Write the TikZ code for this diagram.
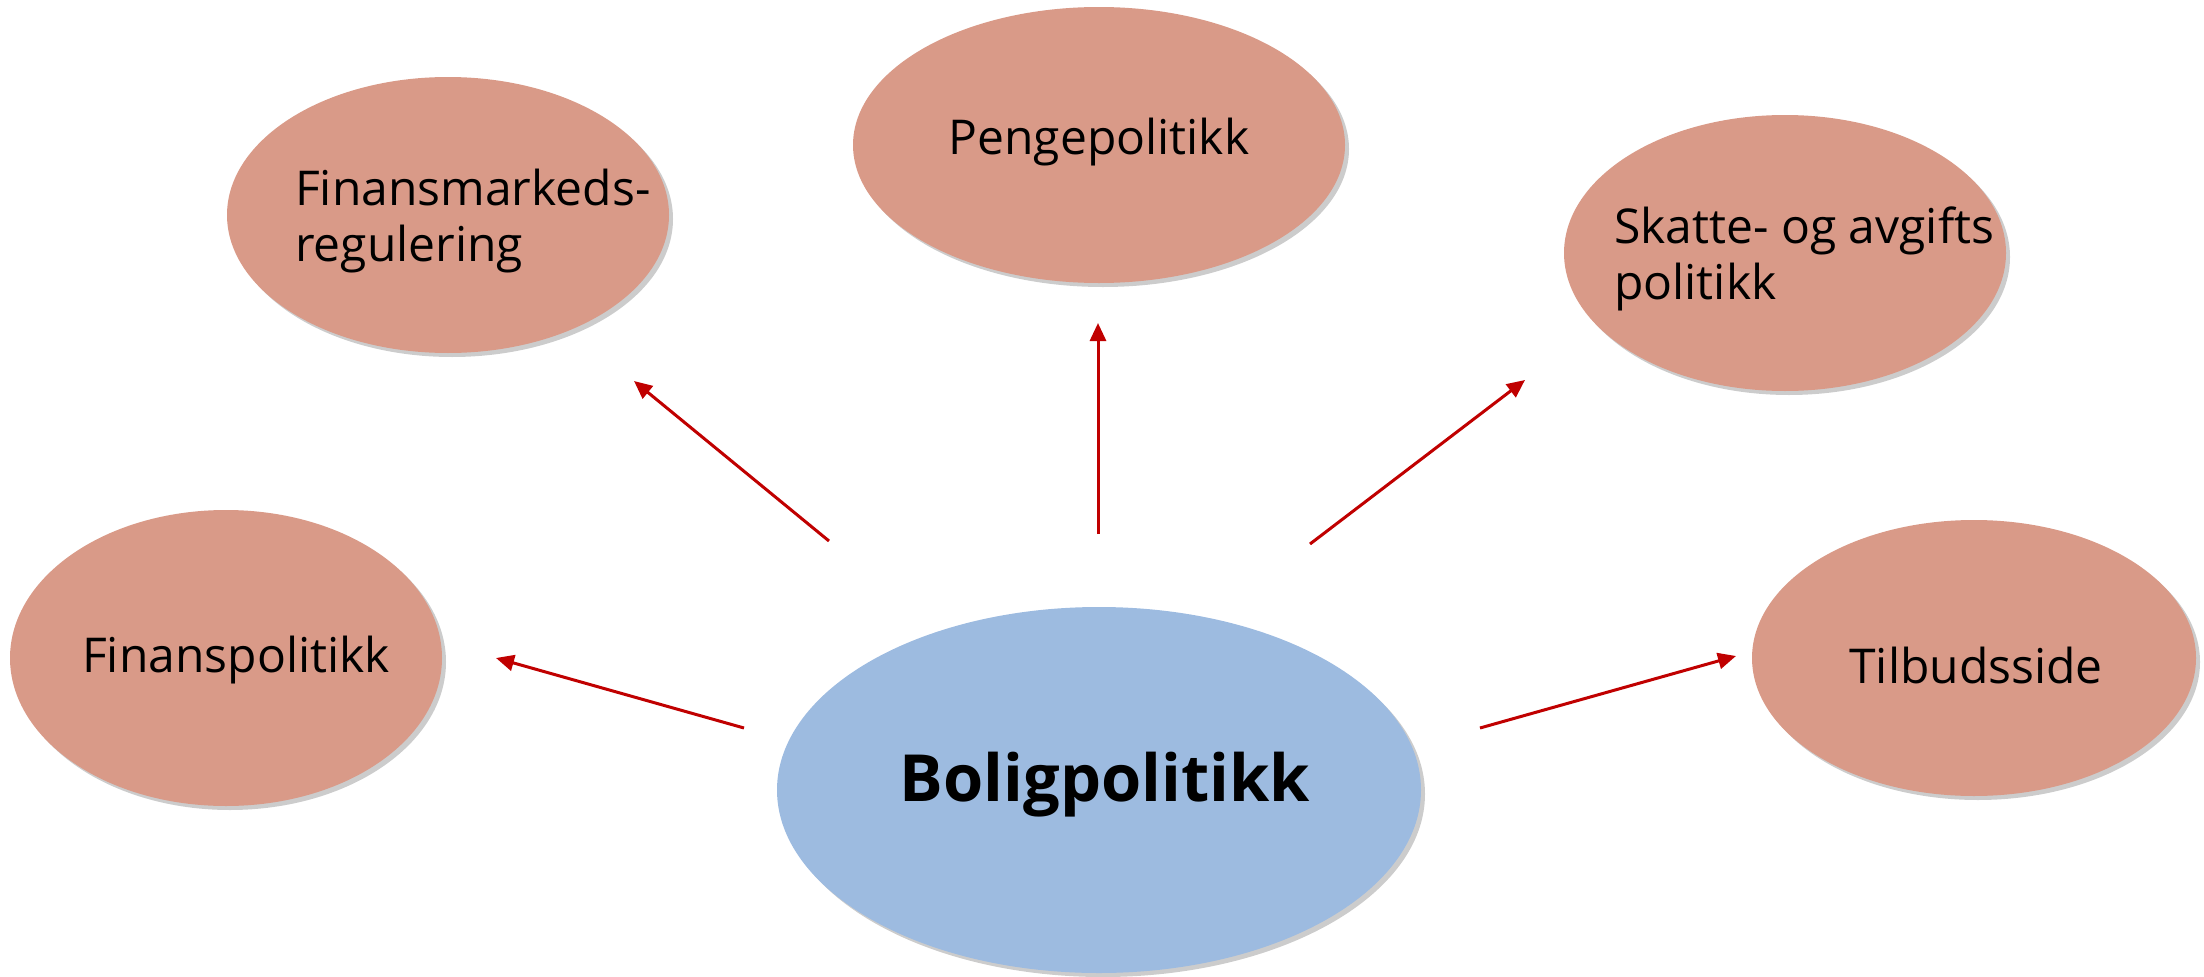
\documentclass[tikz,border=0pt]{standalone}
\usepackage{fontspec}
\setmainfont{Open Sans}
\usetikzlibrary{shapes.geometric,shadows,arrows.meta}
\definecolor{salmon}{HTML}{D99A88}
\definecolor{sky}{HTML}{9DBBE0}
\definecolor{arrowred}{HTML}{C00000}
\tikzset{
  bubble/.style={ellipse, inner sep=0pt, fill=salmon,
    drop shadow={shadow xshift=4pt, shadow yshift=-4pt, fill=black, opacity=0.2}},
  hub/.style={ellipse, inner sep=0pt, fill=sky,
    drop shadow={shadow xshift=4pt, shadow yshift=-4pt, fill=black, opacity=0.2}},
  lbl/.style={inner sep=0pt, font=\fontsize{48}{56}\selectfont, align=left},
  link/.style={draw=arrowred, line width=3pt, -{Triangle[length=18pt,width=16pt]}}
}
\begin{document}
\begin{tikzpicture}[x=1pt,y=-1pt]
\useasboundingbox (0,0) rectangle (2204,977);
% ellipses
\node[bubble, minimum width=442pt, minimum height=276pt] (fm) at (448,215) {};
\node[bubble, minimum width=492pt, minimum height=276pt] (pp) at (1099,145) {};
\node[bubble, minimum width=442pt, minimum height=276pt] (sk) at (1785,253) {};
\node[bubble, minimum width=432pt, minimum height=296pt] (fp) at (226,658) {};
\node[bubble, minimum width=444pt, minimum height=276pt] (tb) at (1974,658) {};
\node[hub, minimum width=644pt, minimum height=366pt] (bp) at (1099,790) {};
% texts
\node[lbl, anchor=west] (tfm) at (295,221) {Finansmarkeds-\\regulering};
\node[lbl] (tpp) at (1099,142) {Pengepolitikk};
\node[lbl, anchor=west] (tsk) at (1614,259) {Skatte- og avgifts\\politikk};
\node[lbl] (tfp) at (236,660) {Finanspolitikk};
\node[lbl] (ttb) at (1976,665) {Tilbudsside};
\node[inner sep=0pt, font=\fontsize{65}{72}\selectfont\bfseries] (tbp) at (1105,785) {Boligpolitikk};
% arrow ends
\coordinate (a1s) at (829,541); \coordinate (a1e) at (634,381);
\coordinate (a2s) at (1098,534); \coordinate (a2e) at (1098,323);
\coordinate (a3s) at (1310,544); \coordinate (a3e) at (1525,380);
\coordinate (a4s) at (744,728); \coordinate (a4e) at (496,658);
\coordinate (a5s) at (1480,728); \coordinate (a5e) at (1736,656);
\draw[link] (a1s) -- (a1e);
\draw[link] (a2s) -- (a2e);
\draw[link] (a3s) -- (a3e);
\draw[link] (a4s) -- (a4e);
\draw[link] (a5s) -- (a5e);
\end{tikzpicture}
\end{document}
